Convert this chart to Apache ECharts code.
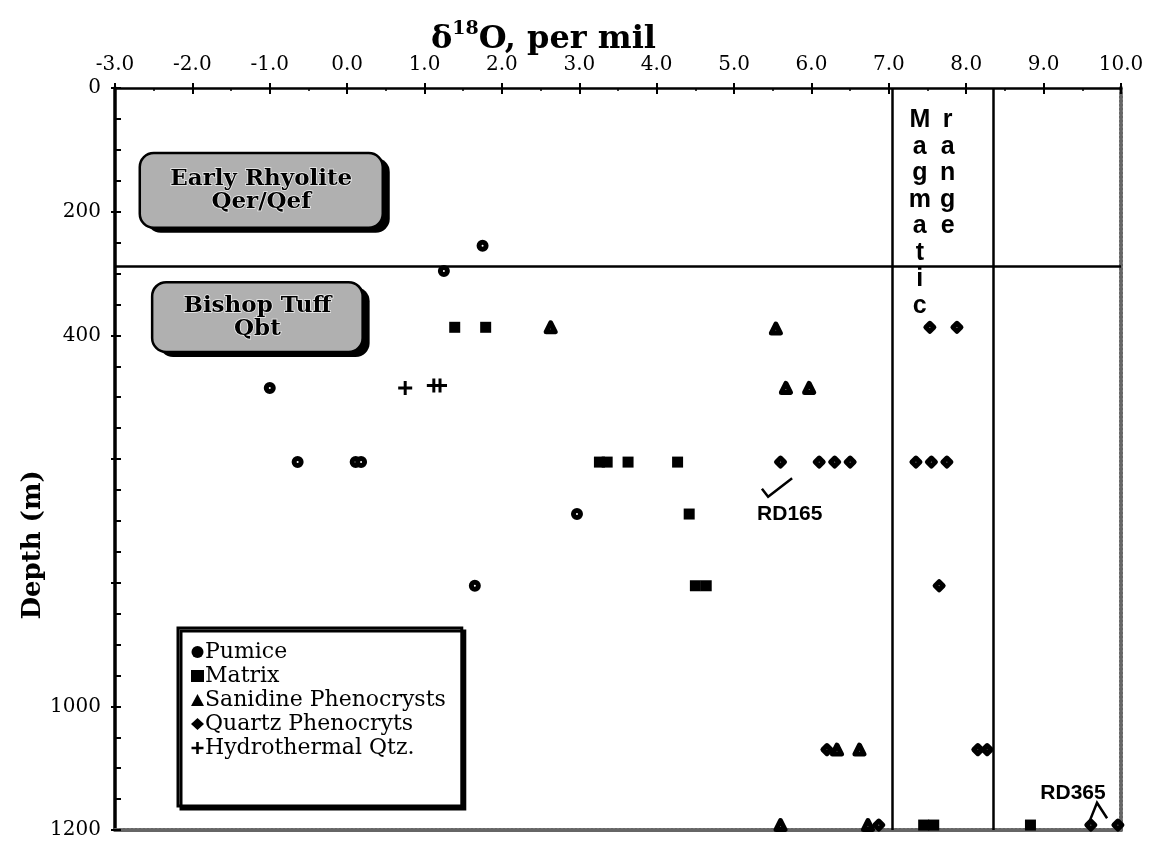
<!DOCTYPE html>
<html><head><meta charset="utf-8">
<script src="https://cdn.jsdelivr.net/npm/echarts@6/dist/echarts.min.js"></script>
<style>html,body{margin:0;padding:0;background:#fff}#c{width:1152px;height:848px}</style>
</head><body><div id="c"></div>
<script>
// ---- data (x = delta18O per mil, y = depth m) ----
const yLabels = [0, 200, 400, 1000, 1200];
const pumice = [[1.75,255],[1.25,296],[-1.0,485],[-0.64,605],[0.11,605],[0.18,605],[2.97,689],[1.65,805]];
const matrix = [[1.39,387],[1.79,387],[3.26,605],[3.36,605],[3.63,605],[4.27,605],[4.42,689],[4.5,805],[4.64,805],[7.45,1192],[7.58,1192],[8.83,1192]];
const sanidine = [[2.63,387],[5.54,389],[5.67,485],[5.97,485],[6.33,1070],[6.62,1070],[5.6,1192],[6.73,1192]];
const quartz = [[7.53,387],[7.88,387],[5.6,605],[6.1,605],[6.3,605],[6.5,605],[7.35,605],[7.55,605],[7.75,605],[7.65,805],[6.2,1070],[8.15,1070],[8.27,1070],[6.87,1192],[9.61,1192],[9.96,1192]];
const hydro = [[0.75,485],[1.12,481],[1.2,481]];
const unitBoundary = [288];
const magmaticRange = [7.05, 8.35];
const seriesNames = ['Pumice','Matrix','Sanidine Phenocrysts','Quartz Phenocryts','Hydrothermal Qtz.'];

// ---- annotations (data-space anchors) ----
const zoneBoxes = [
  {lines:['Early Rhyolite','Qer/Qef'], x0:-2.68, x1:0.46, y0:105, y1:226},
  {lines:['Bishop Tuff','Qbt'], x0:-2.52, x1:0.20, y0:314, y1:427}
];
const magText = [{text:'M\na\ng\nm\na\nt\ni\nc', x:7.40, y:31},{text:'r\na\nn\ng\ne', x:7.76, y:31}];
const rdLabels = [
  {text:'RD165', x:5.72, y:689, path:[[5.36,648],[5.44,661],[5.75,631]]},
  {text:'RD365', x:9.38, y:1140, path:[[9.60,1184],[9.69,1156],[9.82,1181]]}
];
const depthTitle = {text:'Depth (m)', x:-4.05, y:739};

const serif = '"DejaVu Serif", serif';
const chart = echarts.init(document.getElementById('c'));
const gridRect = {left:115, right:31, top:88, bottom:18};
const blk = '#000';
const plusPath = 'path://M5.5,0h3v5.5h5.5v3h-5.5v5.5h-3v-5.5h-5.5v-3h5.5z';
const legendIcons = ['circle','rect','triangle','diamond',plusPath];

const option = {
  animation:false,
  backgroundColor:'#fff',
  title:{
    text:'{a|δ}{b|18}{a|O, per mil}', left:426, top:15,
    textStyle:{rich:{
      a:{fontFamily:serif, fontWeight:'bold', fontSize:32, color:blk, lineHeight:40},
      b:{fontFamily:serif, fontWeight:'bold', fontSize:19, color:blk, lineHeight:40, verticalAlign:'top'}
    }}
  },
  legend:{
    data:seriesNames.map((n,i)=>({name:n, icon:legendIcons[i],
      itemStyle:{color:blk, borderColor:blk, borderWidth:0, opacity:1}})),
    orient:'vertical', left:178, top:628,
    itemWidth:13, itemHeight:12, itemGap:0,
    textStyle:{fontFamily:serif, fontSize:22, color:blk, lineHeight:24, padding:[0,0,0,-4]},
    padding:[12,16,46,13],
    borderColor:blk, borderWidth:3, backgroundColor:'#fff',
    shadowColor:blk, shadowOffsetX:3, shadowOffsetY:3, shadowBlur:0,
    selectedMode:false
  },
  grid:[Object.assign({}, gridRect), Object.assign({}, gridRect)],
  xAxis:[
    {gridIndex:0, type:'value', position:'top', min:-3, max:10, interval:1,
     axisLine:{show:true, onZero:false, lineStyle:{color:blk, width:2.5}},
     axisTick:{show:true, inside:true, length:6, lineStyle:{color:blk, width:2}},
     minorTick:{show:true, splitNumber:2, length:3, lineStyle:{color:blk, width:1.5}},
     axisLabel:{margin:13, fontFamily:serif, fontSize:20, color:blk, formatter:v=>v.toFixed(1)},
     splitLine:{show:false}},
    {gridIndex:0, type:'value', position:'bottom', min:-3, max:10,
     axisLine:{show:true, onZero:false, lineStyle:{color:'#666', width:4, type:[2,2]}},
     axisTick:{show:false}, axisLabel:{show:false}, splitLine:{show:false}},
    {gridIndex:1, type:'value', position:'top', min:-3, max:10, interval:1,
     axisLine:{show:false, onZero:false}, axisTick:{show:true, inside:false, length:5, lineStyle:{color:blk, width:2}},
     axisLabel:{show:false}, splitLine:{show:false}}
  ],
  yAxis:[
    {gridIndex:0, type:'value', position:'left', inverse:true, min:0, max:1200, interval:50,
     axisLine:{show:true, onZero:false, lineStyle:{color:blk, width:3.5}},
     axisTick:{show:true, inside:true, length:6, lineStyle:{color:blk, width:2}},
     axisLabel:{margin:14, fontFamily:serif, fontSize:20, color:blk,
       formatter:v=>yLabels.includes(v)?String(v):''},
     splitLine:{show:false}},
    {gridIndex:0, type:'value', position:'right', inverse:true, min:0, max:1200,
     axisLine:{show:true, onZero:false, lineStyle:{color:'#666', width:4, type:[2,2]}},
     axisTick:{show:false}, axisLabel:{show:false}, splitLine:{show:false}},
    {gridIndex:1, type:'value', position:'left', inverse:true, min:0, max:1200, interval:200,
     axisLine:{show:false, onZero:false}, axisTick:{show:true, inside:false, length:4, lineStyle:{color:blk, width:2}},
     axisLabel:{show:false}, splitLine:{show:false}}
  ],
  series:[
    {name:'Pumice', type:'scatter', xAxisIndex:0, yAxisIndex:0, data:pumice, z:5,
     symbol:'circle', symbolSize:7, itemStyle:{color:'#fff', borderColor:blk, borderWidth:5, opacity:1},
     markLine:{silent:true, symbol:['none','none'], label:{show:false}, z:2,
       lineStyle:{color:blk, width:2.5, type:'solid'},
       data:[...unitBoundary.map(v=>({yAxis:v})), ...magmaticRange.map(v=>({xAxis:v}))]}},
    {name:'Matrix', type:'scatter', xAxisIndex:0, yAxisIndex:0, data:matrix, z:5,
     symbol:'rect', symbolSize:11, itemStyle:{color:blk, opacity:1}},
    {name:'Sanidine Phenocrysts', type:'scatter', xAxisIndex:0, yAxisIndex:0, data:sanidine, z:5,
     symbol:'triangle', symbolSize:9, itemStyle:{color:'#fff', borderColor:blk, borderWidth:5, borderJoin:'round', opacity:1}},
    {name:'Quartz Phenocryts', type:'scatter', xAxisIndex:0, yAxisIndex:0, data:quartz, z:5,
     symbol:'diamond', symbolSize:8, itemStyle:{color:'#fff', borderColor:blk, borderWidth:5, borderJoin:'round', opacity:1}},
    {name:'Hydrothermal Qtz.', type:'scatter', xAxisIndex:0, yAxisIndex:0, data:hydro, z:5,
     symbol:plusPath, symbolSize:14, itemStyle:{color:blk, opacity:1}}
  ]
};
chart.setOption(option);

const px = p => chart.convertToPixel({seriesIndex:0}, p);
const g = [];
zoneBoxes.forEach(b=>{
  const a = px([b.x0,b.y0]), c = px([b.x1,b.y1]);
  const w = c[0]-a[0], h = c[1]-a[1];
  g.push({type:'rect', z:10, shape:{x:a[0]+7, y:a[1]+5, width:w, height:h, r:14}, style:{fill:blk}});
  g.push({type:'rect', z:11, shape:{x:a[0], y:a[1], width:w, height:h, r:14}, style:{fill:'#b0b0b0', stroke:blk, lineWidth:2.5}});
  g.push({type:'text', z:12, style:{text:b.lines.join('\n'), x:a[0]+w/2, y:a[1]+h/2, align:'center', verticalAlign:'middle',
    font:'bold 23px "DejaVu Serif"', lineHeight:23, fill:blk, stroke:'#eee', lineWidth:1.5}});
});
magText.forEach(m=>{
  const p = px([m.x,m.y]);
  g.push({type:'text', z:12, style:{text:m.text, x:p[0], y:p[1], align:'center', verticalAlign:'top',
    font:'bold 25px "Liberation Sans"', lineHeight:26.5, fill:blk}});
});
rdLabels.forEach(r=>{
  const p = px([r.x,r.y]);
  g.push({type:'text', z:12, style:{text:r.text, x:p[0], y:p[1], align:'center', verticalAlign:'middle',
    font:'bold 21px "Liberation Sans"', fill:blk}});
  g.push({type:'polyline', z:12, shape:{points:r.path.map(px)}, style:{stroke:blk, lineWidth:2.5, fill:null}});
});
{
  const p = px([depthTitle.x, depthTitle.y]);
  g.push({type:'text', z:12, x:p[0], y:p[1], rotation:Math.PI/2,
    style:{text:depthTitle.text, x:0, y:0, align:'center', verticalAlign:'middle',
      font:'bold 26px "DejaVu Serif"', fill:blk}});
}
chart.setOption({graphic:g});
</script></body></html>
